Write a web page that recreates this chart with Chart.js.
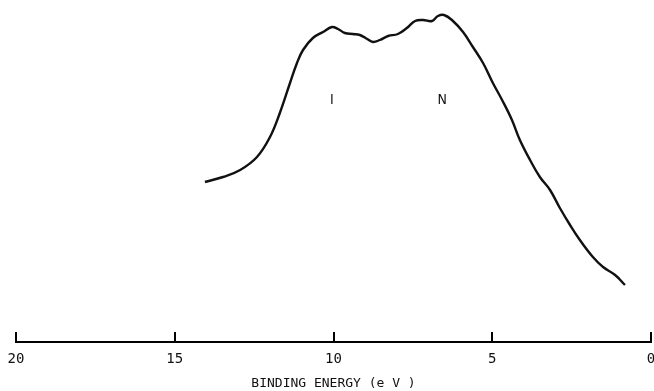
<!DOCTYPE html>
<html>
<head>
<meta charset="utf-8">
<script src="https://cdn.jsdelivr.net/npm/chart.js@4/dist/chart.umd.min.js"></script>
<style>
  html, body { margin: 0; padding: 0; background: #ffffff; }
  #wrap { width: 654px; height: 391px; position: relative; }
</style>
</head>
<body>
<div id="wrap"><canvas id="c" width="654" height="391"></canvas></div>
<script>
// Photoelectron spectrum: binding energy (eV) vs. intensity (arbitrary units)
const bindingEnergy = [
  14.05, 13.48, 12.94, 12.41, 12.00, 11.69, 11.37, 11.15, 10.96, 10.65,
  10.33, 10.05, 9.86, 9.64, 9.39, 9.17, 8.94, 8.76, 8.54, 8.28,
  7.97, 7.69, 7.43, 7.18, 6.90, 6.71, 6.52, 6.27, 5.92, 5.61,
  5.29, 4.98, 4.69, 4.38, 4.13, 3.81, 3.50, 3.18, 2.87, 2.55,
  2.24, 1.83, 1.51, 1.13, 0.82
];
const intensity = [
  160, 165, 172, 185, 205, 229, 259, 279, 292, 304,
  310, 315, 313, 309, 308, 307, 303, 300, 302, 306,
  308, 314, 321, 322, 321, 326, 327, 322, 310, 295,
  279, 259, 242, 222, 202, 182, 165, 152, 134, 117,
  102, 85, 75, 67, 57
];
const tickValues = [0, 5, 10, 15, 20];
const peakNames = ['I', 'N'];
const peakEnergy = [10.05, 6.58];
const peakLabelLevel = [242, 242];

const points = bindingEnergy.map((e, i) => ({ x: e, y: intensity[i] }));

// Short upward tick marks sitting on the energy axis line
const upTicks = {
  id: 'upTicks',
  afterDraw(chart) {
    const xs = chart.scales.x;
    const ctx = chart.ctx;
    ctx.save();
    ctx.strokeStyle = '#000';
    ctx.lineWidth = 2;
    tickValues.forEach(v => {
      const px = Math.round(xs.getPixelForValue(v));
      ctx.beginPath();
      ctx.moveTo(px, xs.top + 1);
      ctx.lineTo(px, xs.top - 10);
      ctx.stroke();
    });
    ctx.restore();
  }
};

// Letters marking the two bands
const peakLetters = {
  id: 'peakLetters',
  afterDatasetsDraw(chart) {
    const xs = chart.scales.x, ys = chart.scales.y;
    const ctx = chart.ctx;
    ctx.save();
    ctx.fillStyle = '#111';
    ctx.font = '14px "DejaVu Sans Condensed", "DejaVu Sans", sans-serif';
    ctx.textAlign = 'center';
    ctx.textBaseline = 'middle';
    peakNames.forEach((t, i) => {
      ctx.fillText(t, xs.getPixelForValue(peakEnergy[i]), ys.getPixelForValue(peakLabelLevel[i]));
    });
    ctx.restore();
  }
};

new Chart(document.getElementById('c'), {
  type: 'line',
  data: {
    datasets: [{
      data: points,
      borderColor: '#111',
      borderWidth: 2.4,
      pointRadius: 0,
      tension: 0.4,
      fill: false
    }]
  },
  options: {
    responsive: false,
    animation: false,
    layout: { padding: { left: 16, right: 3, top: 0, bottom: 0 } },
    plugins: { legend: { display: false }, tooltip: { enabled: false } },
    scales: {
      x: {
        type: 'linear',
        reverse: true,
        min: 0,
        max: 20,
        afterBuildTicks(scale) { scale.ticks = tickValues.map(v => ({ value: v })); },
        afterFit(scale) { scale.height = 49; },
        ticks: {
          color: '#111',
          padding: 9,
          maxRotation: 0,
          font: { family: '"DejaVu Sans Mono", monospace', size: 14 }
        },
        grid: { drawOnChartArea: false, drawTicks: false },
        border: { display: true, color: '#000', width: 2 },
        title: {
          display: true,
          text: 'BINDING ENERGY (e V )',
          color: '#111',
          font: { family: '"DejaVu Sans Mono", monospace', size: 13 },
          padding: { top: 2, bottom: 0 }
        }
      },
      y: {
        display: false,
        min: 0,
        max: 342
      }
    }
  },
  plugins: [upTicks, peakLetters]
});
</script>
</body>
</html>
